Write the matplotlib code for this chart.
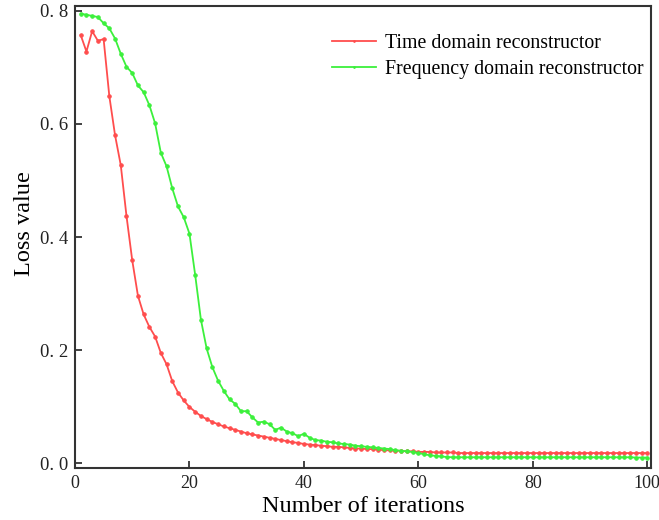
import matplotlib
matplotlib.use("Agg")
import matplotlib.pyplot as plt
import numpy as np

iterations = list(range(1, 101))

time_loss = [
    0.757, 0.728, 0.764, 0.747, 0.750, 0.649, 0.580, 0.527, 0.437, 0.359,
    0.296, 0.263, 0.241, 0.224, 0.195, 0.175, 0.145, 0.125, 0.111, 0.0995,
    0.091, 0.0836, 0.078, 0.073, 0.069, 0.065, 0.062, 0.059, 0.056, 0.053,
    0.051, 0.049, 0.047, 0.045, 0.043, 0.041, 0.039, 0.037, 0.036, 0.034,
    0.033, 0.032, 0.031, 0.030, 0.029, 0.029, 0.028, 0.027, 0.026, 0.026,
    0.025, 0.025, 0.024, 0.023, 0.023, 0.022, 0.022, 0.021, 0.021, 0.020,
    0.020, 0.020, 0.019, 0.019, 0.019, 0.019, 0.018, 0.018, 0.018, 0.018,
    0.018, 0.018, 0.018, 0.018, 0.018, 0.018, 0.018, 0.018, 0.018, 0.018,
    0.018, 0.018, 0.018, 0.018, 0.018, 0.018, 0.018, 0.018, 0.018, 0.018,
    0.018, 0.018, 0.018, 0.018, 0.018, 0.018, 0.018, 0.018, 0.018, 0.018,
]

freq_loss = [
    0.795, 0.793, 0.791, 0.789, 0.778, 0.769, 0.751, 0.724, 0.701, 0.690,
    0.668, 0.656, 0.633, 0.601, 0.549, 0.525, 0.486, 0.454, 0.435, 0.406,
    0.333, 0.254, 0.203, 0.170, 0.146, 0.128, 0.113, 0.105, 0.092, 0.092,
    0.081, 0.072, 0.0735, 0.069, 0.059, 0.063, 0.056, 0.053, 0.048, 0.052,
    0.045, 0.041, 0.040, 0.038, 0.037, 0.035, 0.034, 0.033, 0.031, 0.030,
    0.029, 0.028, 0.027, 0.026, 0.025, 0.023, 0.022, 0.021, 0.020, 0.018,
    0.016, 0.014, 0.013, 0.012, 0.011, 0.0105, 0.0105, 0.0105, 0.0105, 0.0105,
    0.0105, 0.0105, 0.0105, 0.0105, 0.0105, 0.0105, 0.0105, 0.0105, 0.0105, 0.0105,
    0.0105, 0.0105, 0.0105, 0.0105, 0.0105, 0.0105, 0.0105, 0.0105, 0.0105, 0.0105,
    0.0105, 0.0105, 0.0105, 0.0105, 0.0105, 0.0105, 0.0105, 0.010, 0.010, 0.010,
]

series_labels = ["Time domain reconstructor", "Frequency domain reconstructor"]
x_ticks = [0, 20, 40, 60, 80, 100]
y_ticks = [0.0, 0.2, 0.4, 0.6, 0.8]
y_tick_labels = ["0. 0", "0. 2", "0. 4", "0. 6", "0. 8"]

plt.rcParams['font.family'] = ['Liberation Serif', 'DejaVu Serif']

fig = plt.figure(figsize=(6.59, 5.2), dpi=100)
ax = fig.add_axes([0.1138, 0.0994, 0.8736, 0.8896])

ax.plot(iterations, time_loss, color='#ff4d4d', lw=1.3, marker='o', ms=2.6,
        markeredgewidth=0.6, label=series_labels[0])
ax.plot(iterations, freq_loss, color='#3cf03c', lw=1.3, marker='o', ms=2.6,
        markeredgewidth=0.6, label=series_labels[1])

ax.set_xlim(0, 100.6)
ax.set_ylim(-0.009, 0.809)
ax.set_xticks(x_ticks)
ax.set_yticks(y_ticks)
ax.set_yticklabels(y_tick_labels)
ax.tick_params(direction='in', length=5, width=1.2, labelsize=13.5, colors='#222222')
ax.tick_params(axis='x', pad=5, labelsize=13)
ax.tick_params(axis='y', pad=5)
for s in ax.spines.values():
    s.set_linewidth(1.5)
    s.set_color('#333333')

ax.set_xlabel("Number of iterations", fontsize=17.5, labelpad=3)
ax.set_ylabel("Loss value", fontsize=17.5)
ax.yaxis.set_label_coords(-0.07, 0.53)

leg = ax.legend(loc='upper right', bbox_to_anchor=(1.019, 0.978), frameon=False,
                fontsize=14.3, handlelength=2.25, handletextpad=0.45,
                labelspacing=0.35, markerscale=0.5)

fig.savefig("out.png", dpi=100)
